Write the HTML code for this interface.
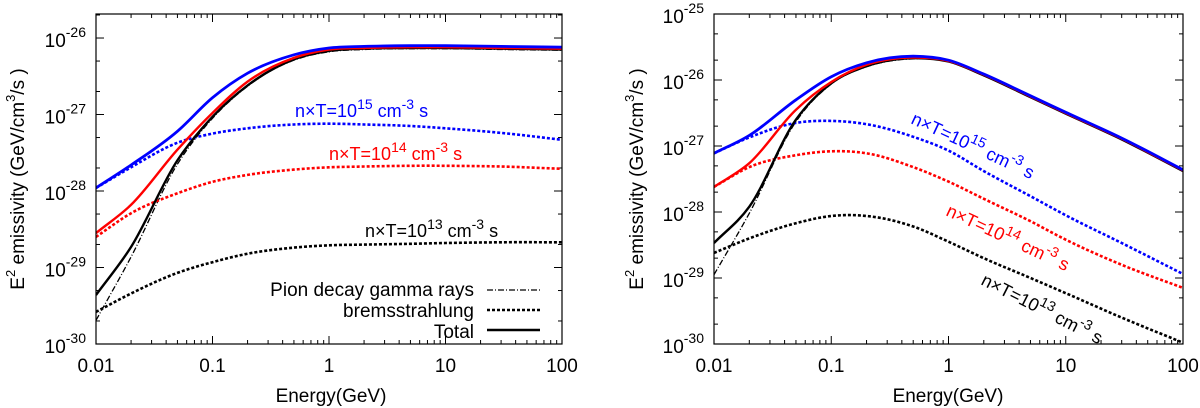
<!DOCTYPE html>
<html><head><meta charset="utf-8"><style>
html,body{margin:0;padding:0;background:#fff;}
svg{display:block;font-family:"Liberation Sans",sans-serif;}
</style></head><body>
<svg id="chart" width="1200" height="408" viewBox="0 0 1200 408" xmlns="http://www.w3.org/2000/svg"></svg>
<script>
// ---- data (log10 of emissivity) ----
const energies = [0.01,0.02,0.05,0.1,0.2,0.5,1,2,5,10,30,100];
// left panel
const L_blueTotal  = [-27.96,-27.66,-27.22,-26.78,-26.46,-26.22,-26.13,-26.11,-26.10,-26.10,-26.11,-26.12];
const L_redTotal   = [-28.55,-28.18,-27.46,-26.98,-26.57,-26.26,-26.15,-26.13,-26.12,-26.12,-26.13,-26.14];
const L_blackTotal = [-29.36,-28.73,-27.60,-27.03,-26.62,-26.28,-26.17,-26.14,-26.13,-26.13,-26.14,-26.15];
const L_pion       = [-29.69,-28.86,-27.65,-27.05,-26.63,-26.29,-26.18,-26.15,-26.14,-26.14,-26.15,-26.16];
const L_blueBrem   = [-27.96,-27.69,-27.37,-27.25,-27.18,-27.13,-27.12,-27.13,-27.15,-27.18,-27.24,-27.33];
const L_redBrem    = [-28.60,-28.29,-28.03,-27.88,-27.79,-27.72,-27.69,-27.68,-27.67,-27.67,-27.68,-27.71];
const L_blackBrem  = [-29.58,-29.34,-29.07,-28.93,-28.82,-28.74,-28.71,-28.70,-28.69,-28.68,-28.67,-28.67];
// right panel
const R_blueTotal  = [-27.11,-26.84,-26.30,-25.95,-25.74,-25.64,-25.70,-25.91,-26.24,-26.49,-26.88,-27.36];
const R_redTotal   = [-27.62,-27.26,-26.45,-26.03,-25.77,-25.66,-25.71,-25.92,-26.25,-26.50,-26.89,-27.37];
const R_blackTotal = [-28.47,-27.92,-26.60,-26.05,-25.79,-25.67,-25.72,-25.93,-26.26,-26.51,-26.90,-27.38];
const R_pion       = [-28.95,-28.02,-26.63,-26.06,-25.80,-25.68,-25.72,-25.93,-26.26,-26.51,-26.90,-27.38];
const R_blueBrem   = [-27.11,-26.87,-26.65,-26.62,-26.67,-26.86,-27.07,-27.38,-27.76,-28.05,-28.47,-28.94];
const R_redBrem    = [-27.62,-27.32,-27.14,-27.08,-27.11,-27.32,-27.54,-27.80,-28.14,-28.42,-28.80,-29.15];
const R_blackBrem  = [-28.62,-28.40,-28.17,-28.06,-28.06,-28.22,-28.45,-28.70,-29.00,-29.23,-29.60,-29.98];
const xTickLabels = ["0.01","0.1","1","10","100"];
const L_yTicks = [-30,-29,-28,-27,-26];
const R_yTicks = [-30,-29,-28,-27,-26,-25];

const NS="http://www.w3.org/2000/svg";
const svg=document.getElementById('chart');
function mk(tag,attrs,parent){const e=document.createElementNS(NS,tag);for(const k in attrs)e.setAttribute(k,attrs[k]);(parent||svg).appendChild(e);return e;}

function smoothPath(P){
  const n=P.length, m=[];
  for(let i=0;i<n;i++){
    if(i===0)m.push((P[1][1]-P[0][1])/(P[1][0]-P[0][0]));
    else if(i===n-1)m.push((P[n-1][1]-P[n-2][1])/(P[n-1][0]-P[n-2][0]));
    else{
      const s0=(P[i][1]-P[i-1][1])/(P[i][0]-P[i-1][0]), s1=(P[i+1][1]-P[i][1])/(P[i+1][0]-P[i][0]);
      const h0=P[i][0]-P[i-1][0], h1=P[i+1][0]-P[i][0];
      m.push((s0*h1+s1*h0)/(h0+h1));
    }
  }
  let d='M'+P[0][0].toFixed(1)+','+P[0][1].toFixed(1);
  for(let i=0;i<n-1;i++){
    const h=(P[i+1][0]-P[i][0])/3;
    d+=' C'+(P[i][0]+h).toFixed(1)+','+(P[i][1]+m[i]*h).toFixed(1)+' '+(P[i+1][0]-h).toFixed(1)+','+(P[i+1][1]-m[i+1]*h).toFixed(1)+' '+P[i+1][0].toFixed(1)+','+P[i+1][1].toFixed(1);
  }
  return d;
}

function panel(P){
  const g=mk('g',{});
  
  
  const sx=v=>P.x0+(Math.log10(v)+2)/4*(P.x1-P.x0);
  const sy=l=>P.y1-(l-(-30))/(P.ytop+30)*(P.y1-P.y0);
  const tk=mk('g',{stroke:'#000','stroke-width':1},g);
  
  
  for(let d=-2;d<2;d++)for(let m=2;m<10;m++){
    const x=sx(Math.pow(10,d)*m);
    mk('line',{x1:x,y1:P.y1,x2:x,y2:P.y1-4},tk);mk('line',{x1:x,y1:P.y0,x2:x,y2:P.y0+4},tk);
  }
  for(let d=-2;d<=2;d++){const x=sx(Math.pow(10,d));mk('line',{x1:x,y1:P.y1,x2:x,y2:P.y1-8},tk);mk('line',{x1:x,y1:P.y0,x2:x,y2:P.y0+8},tk);}
  for(let d=-30;d<P.ytop;d++){
    [0,Math.log10(2),Math.log10(5)].forEach((o,i)=>{const l=d+o;if(l>P.ytop)return;const y=sy(l);const len=i===0?8:4;
      mk('line',{x1:P.x0,y1:y,x2:P.x0+len,y2:y},tk);mk('line',{x1:P.x1,y1:y,x2:P.x1-len,y2:y},tk);});
  }
  xTickLabels.forEach((t,i)=>{const e=mk('text',{x:sx(Math.pow(10,i-2)),y:P.y1+28,'text-anchor':'middle','font-size':19},g);e.textContent=t;
    });
  P.yTicks.forEach(l=>{const e=mk('text',{x:P.x0-10,y:sy(l)+9,'text-anchor':'end','font-size':19},g);
    
    const a=mk('tspan',{},e);a.textContent='10';const b=mk('tspan',{dy:-10,'font-size':14},e);b.textContent=String(l);});
  const clip='clip'+P.name; const cp=mk('clipPath',{id:clip},g); mk('rect',{x:P.x0,y:P.y0,width:P.x1-P.x0,height:P.y1-P.y0},cp);
  const sg=mk('g',{'clip-path':'url(#'+clip+')',fill:'none'},g);
  P.series.forEach(s=>{
    const pts=energies.map((e,i)=>[sx(e),sy(s.d[i])]);
    const a={d:smoothPath(pts),stroke:s.c,'stroke-width':s.w,'stroke-linejoin':'round'};
    if(s.dash)a['stroke-dasharray']=s.dash;
    const p=mk('path',a,sg);
    
    
  });
  const f=mk('rect',{x:P.x0,y:P.y0,width:P.x1-P.x0,height:P.y1-P.y0,fill:'none',stroke:'#000','stroke-width':1.2},g);
  
  
  const xt=mk('text',{x:P.xtX,y:402,'text-anchor':'middle','font-size':19},g);xt.textContent='Energy(GeV)';
  
  const yt=mk('text',{transform:`translate(${P.ytX},${(P.y0+P.y1)/2}) rotate(-90)`,'text-anchor':'middle','font-size':19},g);
  
  const parts=[['E',0,19],['2',-9,13],[' emissivity (GeV/cm',9,19],['3',-9,13],['/s )',9,19]];
  parts.forEach(p=>{const t=mk('tspan',{dy:p[1],'font-size':p[2]},yt);t.textContent=p[0];});
  return g;
}
function label(g,x,y,rot,col,exp,name){
  const e=mk('text',{transform:`translate(${x},${y}) rotate(${rot})`,fill:col,'font-size':18},g);
  
  
  [['n×T=10',0,18],[exp,-8,14],[' cm',8,18],['-3',-8,14],[' s',8,18]].forEach(p=>{const t=mk('tspan',{dy:p[1],'font-size':p[2]},e);t.textContent=p[0];});
}
const BL='#0000ff',RD='#ff0000',BK='#000';
const left=panel({name:'left-panel',x0:96,x1:562,y0:14,y1:344,ytop:-25.686,yTicks:L_yTicks,xtX:331,ytX:24,
  series:[
    {n:'pion-decay-line',d:L_pion,c:BK,w:1.3,dash:'6,2,1,2'},
    {n:'brem-1e13',d:L_blackBrem,c:BK,w:2.6,dash:'3,2'},
    {n:'brem-1e14',d:L_redBrem,c:RD,w:2.6,dash:'3,2'},
    {n:'brem-1e15',d:L_blueBrem,c:BL,w:2.6,dash:'3,2'},
    {n:'total-1e13',d:L_blackTotal,c:BK,w:2.4},
    {n:'total-1e14',d:L_redTotal,c:RD,w:2.4},
    {n:'total-1e15',d:L_blueTotal,c:BL,w:2.8}]});
label(left,295,117,0,BL,'15','label-1e15');
label(left,329,160,0,RD,'14','label-1e14');
label(left,365,237,0,BK,'13','label-1e13');
const lg=mk('g',{'font-size':19},left);


[['Pion decay gamma rays',296,290,'6,2,1,2',1.3],['bremsstrahlung',317,310,'3,2',2.6],['Total',338,330,null,2.6]].forEach(r=>{
  const t=mk('text',{x:474,y:r[1],'text-anchor':'end'},lg);t.textContent=r[0];
  
  const a={x1:487,x2:540,y1:r[2],y2:r[2],stroke:'#000','stroke-width':r[4]};if(r[3])a['stroke-dasharray']=r[3];
  const l=mk('line',a,lg);
});
const right=panel({name:'right-panel',x0:714,x1:1183,y0:14,y1:344,ytop:-25,yTicks:R_yTicks,xtX:948,ytX:643,
  series:[
    {n:'pion-decay-line',d:R_pion,c:BK,w:1.3,dash:'6,2,1,2'},
    {n:'brem-1e13',d:R_blackBrem,c:BK,w:2.6,dash:'3,2'},
    {n:'brem-1e14',d:R_redBrem,c:RD,w:2.6,dash:'3,2'},
    {n:'brem-1e15',d:R_blueBrem,c:BL,w:2.6,dash:'3,2'},
    {n:'total-1e13',d:R_blackTotal,c:BK,w:2.4},
    {n:'total-1e14',d:R_redTotal,c:RD,w:2.4},
    {n:'total-1e15',d:R_blueTotal,c:BL,w:2.8}]});
label(right,910,123,25,BL,'15','label-1e15');
label(right,945,215,25,RD,'14','label-1e14');
label(right,980,284,27,BK,'13','label-1e13');
</script>
</body></html>
